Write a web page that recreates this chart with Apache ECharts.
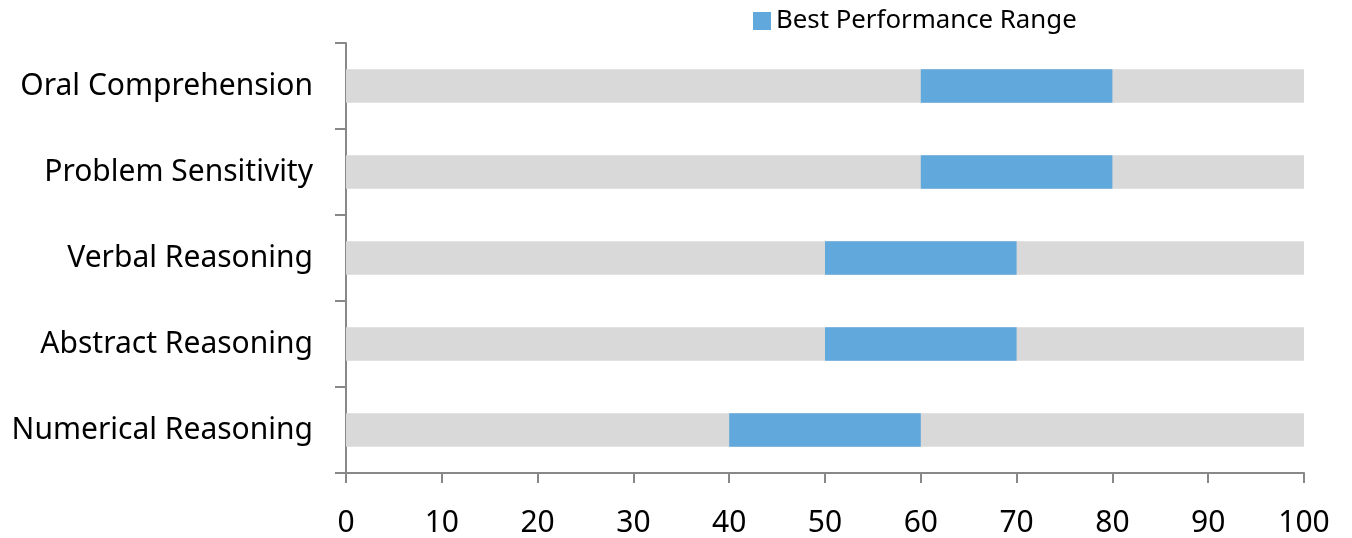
<!DOCTYPE html>
<html>
<head>
<meta charset="utf-8">
<script src="https://cdn.jsdelivr.net/npm/echarts@6/dist/echarts.min.js"></script>
<style>
    html, body { margin: 0; padding: 0; background: #fff; }
    #chartDiv { width: 1352px; height: 538px; }
</style>
</head>
<body>
<div id="chartDiv"></div>
<script>
// categories listed bottom to top
let skills = ["Numerical Reasoning", "Abstract Reasoning", "Verbal Reasoning", "Problem Sensitivity", "Oral Comprehension"];
let rangeStart = [40, 50, 50, 60, 60];
let rangeEnd = [60, 70, 70, 80, 80];
let fullScale = [100, 100, 100, 100, 100];
let xTicks = [0, 10, 20, 30, 40, 50, 60, 70, 80, 90, 100];

let rangeWidth = rangeEnd.map((v, i) => v - rangeStart[i]);

let chart = echarts.init(document.getElementById("chartDiv"));
let font = "'Noto Sans', sans-serif";

let options = {
    animation: false,
    textStyle: { fontFamily: font },
    legend: {
        data: [{ name: "Best Performance Range", icon: "rect" }],
        left: 748,
        top: 3,
        itemWidth: 18,
        itemHeight: 18,
        itemGap: 8,
        textStyle: { fontSize: 25.8, color: "#000", fontFamily: font },
    },
    grid: {
        left: 346,
        right: 48,
        top: 43,
        bottom: 64,
    },
    xAxis: {
        type: "value",
        min: xTicks[0],
        max: xTicks[xTicks.length - 1],
        interval: 10,
        splitLine: { show: false },
        axisLine: { show: true, lineStyle: { color: "#888", width: 2 } },
        axisTick: { show: true, length: 10, lineStyle: { color: "#888", width: 2 } },
        axisLabel: { fontSize: 30, color: "#000", margin: 35, fontFamily: font },
    },
    yAxis: {
        type: "category",
        data: skills,
        axisLine: { show: true, lineStyle: { color: "#888", width: 2 } },
        axisTick: { show: true, length: 11, lineStyle: { color: "#888", width: 2 } },
        axisLabel: { fontSize: 30, color: "#000", margin: 33, padding: [6, 0, 0, 0], fontFamily: font },
    },
    series: [
        {
            name: "Full",
            type: "bar",
            data: fullScale,
            barWidth: "39%",
            barGap: "-100%",
            itemStyle: { color: "#d9d9d9" },
            silent: true,
        },
        {
            name: "Start",
            type: "bar",
            stack: "range",
            data: rangeStart,
            barWidth: "39%",
            itemStyle: { color: "transparent" },
            silent: true,
        },
        {
            name: "Best Performance Range",
            type: "bar",
            stack: "range",
            data: rangeWidth,
            barWidth: "39%",
            itemStyle: { color: "#61a9dc" },
        },
    ],
};
chart.setOption(options);
</script>
</body>
</html>
